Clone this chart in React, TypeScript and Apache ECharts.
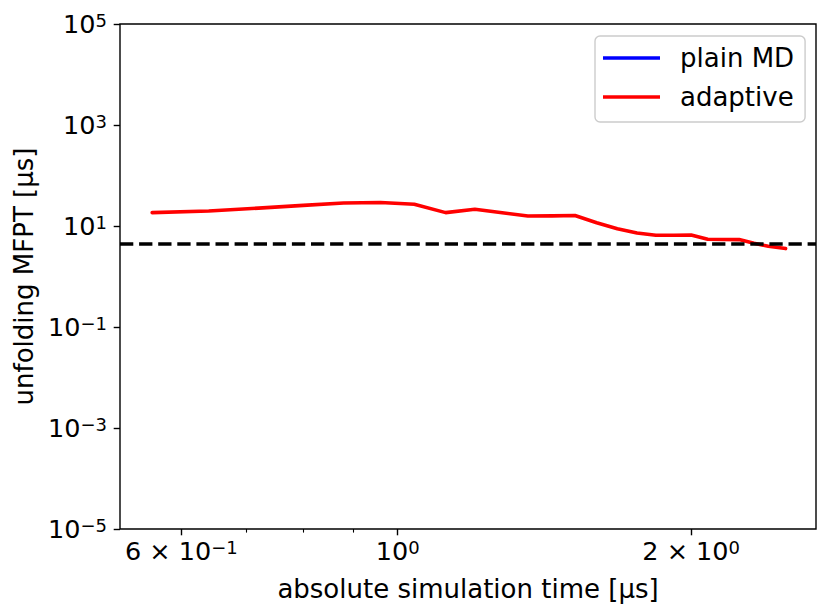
import React, { useEffect, useRef } from 'react';
import * as echarts from 'echarts';

// ---- data ----
const timesUs = [0.56, 0.64, 0.72, 0.8, 0.88, 0.96, 1.04, 1.12, 1.2, 1.28, 1.36, 1.44, 1.52, 1.6, 1.68, 1.76, 1.84, 1.92, 2.0, 2.08, 2.16, 2.24, 2.32, 2.4, 2.5];
const adaptiveMFPT = [18.4, 19.8, 22.6, 25.6, 28.5, 29.1, 26.9, 18.4, 21.4, 18.3, 15.8, 15.9, 16.1, 11.6, 8.8, 7.24, 6.54, 6.54, 6.63, 5.45, 5.4, 5.38, 4.54, 3.96, 3.57];
const plainMDTimes: number[] = [];
const plainMDMFPT: number[] = [];
const referenceMFPT = 4.4;

const xRange = [0.519, 2.686];
const yRange = [1e-5, 1e5];
const xTickValues = [0.6, 1, 2];
const xTickLabels = [['6 × 10', '−1'], ['10', '0'], ['2 × 10', '0']];
const xMinorTickValues = [0.7, 0.8, 0.9];
const yTickValues = [1e-5, 1e-3, 1e-1, 1e1, 1e3, 1e5];
const yTickLabels = [['10', '−5'], ['10', '−3'], ['10', '−1'], ['10', '1'], ['10', '3'], ['10', '5']];

const FONT = 'DejaVu Sans';

function makeFormatter(values: number[], labels: string[][]) {
  return (v: number) => {
    const i = values.findIndex((t) => Math.abs(v / t - 1) < 1e-6);
    if (i < 0) return '';
    return `{b|${labels[i][0]}}{s|${labels[i][1]}}`;
  };
}

const rich = {
  b: { fontSize: 25.5, fontFamily: FONT, color: '#000', lineHeight: 25, verticalAlign: 'middle' },
  s: { fontSize: 18, fontFamily: FONT, color: '#000', lineHeight: 10, verticalAlign: 'top' },
};

export default function App() {
  const ref = useRef<HTMLDivElement>(null);
  useEffect(() => {
    document.body.style.margin = '0';
    if (!ref.current) return;
    const chart = echarts.init(ref.current, null, { renderer: 'svg' });
    const option: any = {
      animation: false,
      backgroundColor: '#fff',
      textStyle: { fontFamily: FONT },
      grid: {
        left: 120,
        right: 14,
        top: 24,
        bottom: 86,
        show: true,
        borderColor: '#000',
        borderWidth: 1.4,
        backgroundColor: 'transparent',
      },
      legend: {
        data: ['plain MD', 'adaptive'],
        orient: 'vertical',
        left: 595,
        top: 36,
        padding: [9, 11, 12, 8],
        itemGap: 13,
        itemWidth: 57,
        itemHeight: 3.6,
        icon: 'rect',
        backgroundColor: '#fff',
        borderColor: '#cccccc',
        borderWidth: 1.4,
        borderRadius: 5,
        textStyle: { fontSize: 26, fontFamily: FONT, color: '#000', lineHeight: 25, padding: [0, 0, 0, 15] },
      },
      xAxis: [
        {
          type: 'log',
          logBase: 10,
          min: xRange[0],
          max: xRange[1],
          name: 'absolute simulation time [µs]',
          nameLocation: 'middle',
          nameGap: 47,
          nameTextStyle: { fontSize: 26, fontFamily: FONT, color: '#000' },
          axisLine: { show: false },
          axisTick: { show: true, customValues: xTickValues, length: 6.3, lineStyle: { color: '#000', width: 1.4 } },
          axisLabel: { show: true, customValues: xTickValues, formatter: makeFormatter(xTickValues, xTickLabels), margin: 9, rich },
          splitLine: { show: false },
          minorTick: { show: false },
        },
        {
          type: 'log',
          logBase: 10,
          min: xRange[0],
          max: xRange[1],
          gridIndex: 0,
          position: 'bottom',
          axisLine: { show: false },
          axisTick: { show: true, customValues: xMinorTickValues, length: 3.6, lineStyle: { color: '#000', width: 1.1 } },
          axisLabel: { show: false },
          splitLine: { show: false },
        },
      ],
      yAxis: {
        type: 'log',
        logBase: 10,
        min: yRange[0],
        max: yRange[1],
        name: 'unfolding MFPT [µs]',
        nameLocation: 'middle',
        nameGap: 82,
        nameTextStyle: { fontSize: 26, fontFamily: FONT, color: '#000' },
        axisLine: { show: false },
        axisTick: { show: true, customValues: yTickValues, length: 6.3, lineStyle: { color: '#000', width: 1.4 } },
        axisLabel: { show: true, customValues: yTickValues, formatter: makeFormatter(yTickValues, yTickLabels), margin: 13, rich },
        splitLine: { show: false },
        minorTick: { show: false },
      },
      series: [
        {
          name: 'plain MD',
          type: 'line',
          xAxisIndex: 0,
          data: plainMDTimes.map((t, i) => [t, plainMDMFPT[i]]),
          showSymbol: false,
          symbol: 'none',
          itemStyle: { color: '#0000ff' },
          lineStyle: { color: '#0000ff', width: 3.6 },
        },
        {
          name: 'adaptive',
          type: 'line',
          xAxisIndex: 0,
          data: timesUs.map((t, i) => [t, adaptiveMFPT[i]]),
          showSymbol: false,
          symbol: 'none',
          itemStyle: { color: '#ff0000' },
          lineStyle: { color: '#ff0000', width: 3.6, join: 'round', cap: 'round' },
          markLine: {
            silent: true,
            symbol: ['none', 'none'],
            label: { show: false },
            lineStyle: { color: '#000', width: 3.6, type: [13.3, 5.8] },
            data: [{ yAxis: referenceMFPT }],
          },
        },
      ],
    };
    chart.setOption(option);
    return () => chart.dispose();
  }, []);
  return <div ref={ref} style={{ width: 830, height: 615 }} />;
}
